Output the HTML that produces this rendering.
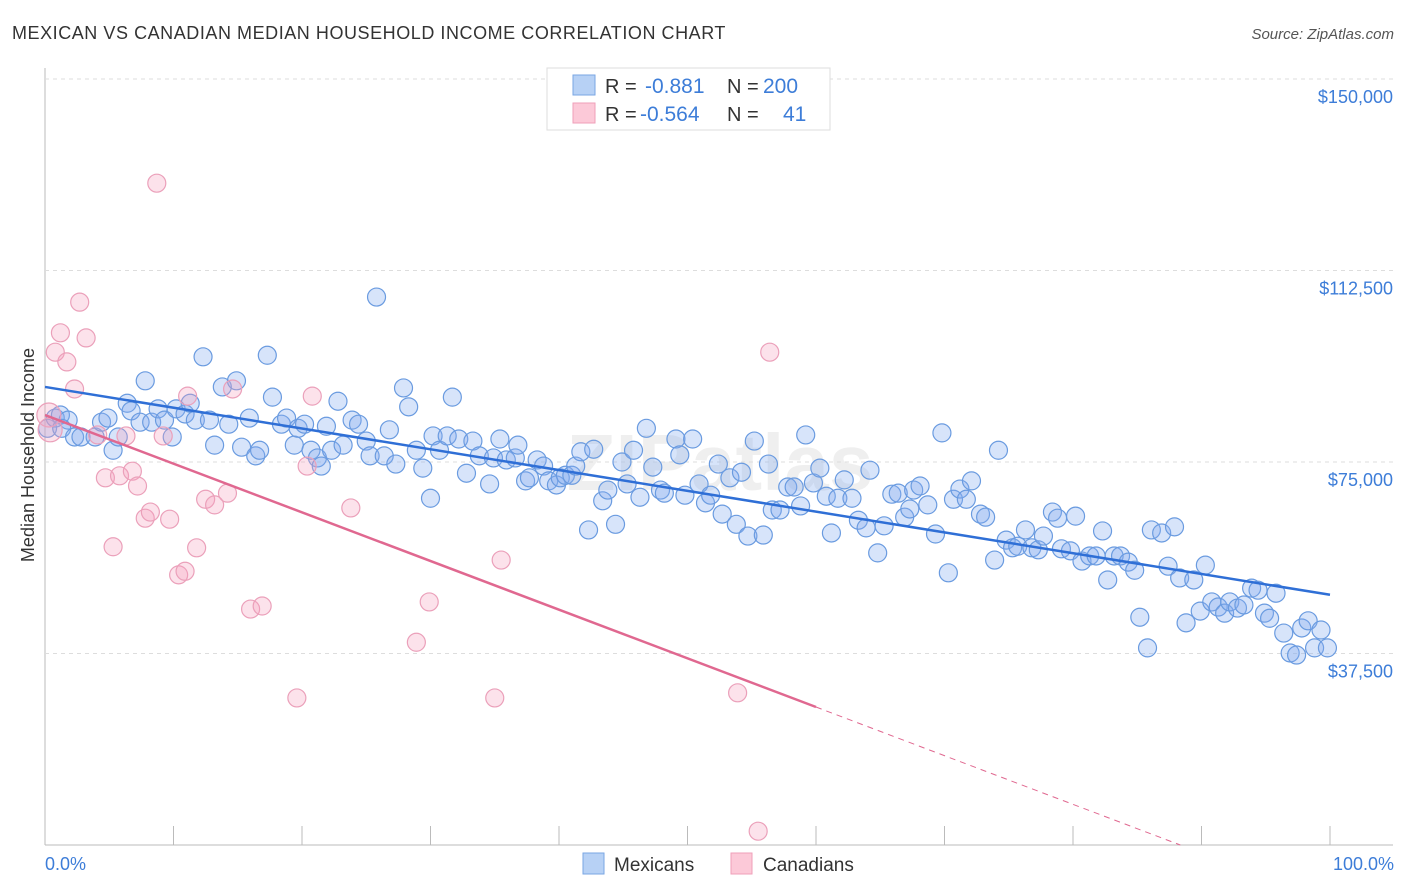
<!DOCTYPE html>
<html><head><meta charset="utf-8"><style>
body{margin:0;background:#fff;font-family:"Liberation Sans",sans-serif}
svg{display:block}
</style></head><body>
<svg id="c" width="1406" height="892" xmlns="http://www.w3.org/2000/svg">
<text x="12" y="39" font-size="18" fill="#333" letter-spacing="0.55">MEXICAN VS CANADIAN MEDIAN HOUSEHOLD INCOME CORRELATION CHART</text>
<text x="1394" y="39" font-size="15" fill="#555" font-style="italic" text-anchor="end">Source: ZipAtlas.com</text>
<text x="720" y="490" font-size="80" fill="#000" opacity="0.06" text-anchor="middle" font-weight="bold">ZIPatlas</text>
<g id="grid"></g><g id="pts"></g><g id="trend"></g>
<text transform="translate(34,455) rotate(-90)" font-size="18" fill="#333" text-anchor="middle">Median Household Income</text>
<text x="45" y="870" font-size="18" fill="#3d7dd8">0.0%</text>
<text x="1394" y="870" font-size="18" fill="#3d7dd8" text-anchor="end">100.0%</text>
<g>
<rect x="547" y="68" width="283" height="62" fill="#fff" stroke="#ddd"/>
<rect x="573" y="75" width="22" height="20" fill="#b7d1f5" stroke="#7aa6e3"/>
<rect x="573" y="103" width="22" height="20" fill="#fcc9d8" stroke="#ef9fb9"/>
<text x="605" y="93" font-size="20" fill="#333">R = </text><text x="645" y="93" font-size="21" fill="#3d7dd8">-0.881</text>
<text x="727" y="93" font-size="20" fill="#333">N = </text><text x="763" y="93" font-size="21" fill="#3d7dd8">200</text>
<text x="605" y="121" font-size="20" fill="#333">R = </text><text x="640" y="121" font-size="21" fill="#3d7dd8">-0.564</text>
<text x="727" y="121" font-size="20" fill="#333">N = </text><text x="783" y="121" font-size="21" fill="#3d7dd8">41</text>
</g>
<g>
<rect x="583" y="853" width="21" height="21" fill="#b7d1f5" stroke="#7aa6e3"/>
<text x="614" y="871" font-size="19" fill="#333">Mexicans</text>
<rect x="731" y="853" width="21" height="21" fill="#fcc9d8" stroke="#ef9fb9"/>
<text x="763" y="871" font-size="19" fill="#333">Canadians</text>
</g>
</svg>
<script>
const yTicks=[37500,75000,112500,150000];
const yTickLabels=["$37,500","$75,000","$112,500","$150,000"];
const mexX=[0.2,0.8,1.2,1.8,1.3,2.3,2.8,3.9,4.4,4.9,5.3,5.7,6.4,6.7,7.8,7.4,8.3,8.8,9.3,9.9,10.2,10.9,11.3,11.7,12.3,12.8,13.2,13.8,14.3,14.9,15.3,15.9,16.4,16.7,17.3,17.7,18.4,18.8,19.4,19.7,20.2,20.7,21.2,21.5,21.9,22.3,22.8,23.2,23.9,24.4,25.0,25.3,25.8,26.4,26.8,27.3,27.9,28.3,28.9,29.4,30.0,30.2,30.7,31.3,31.7,32.2,32.8,33.3,33.8,34.6,34.9,35.4,35.9,36.6,36.8,37.4,37.7,38.3,38.8,39.2,39.8,40.1,40.5,41.0,41.3,41.7,42.3,42.7,43.4,43.8,44.4,44.9,45.3,45.8,46.3,46.8,47.3,47.9,48.2,49.1,49.4,49.8,50.4,50.9,51.4,51.8,52.4,52.7,53.3,53.8,54.2,54.7,55.2,55.9,56.3,56.6,57.2,57.8,58.3,58.8,59.2,59.8,60.3,60.8,61.2,61.7,62.2,62.8,63.3,63.9,64.2,64.8,65.3,65.9,66.4,66.9,67.3,67.6,68.1,68.7,69.3,69.8,70.3,70.7,71.2,71.7,72.1,72.8,73.2,73.9,74.2,74.8,75.3,75.7,76.3,76.8,77.3,77.7,78.4,78.8,79.1,79.8,80.2,80.7,81.3,81.8,82.3,82.7,83.2,83.7,84.3,84.8,85.2,85.8,86.1,86.9,87.4,87.9,88.3,88.8,89.4,89.9,90.3,90.8,91.3,91.8,92.2,92.8,93.3,93.9,94.4,94.9,95.3,95.8,96.4,96.9,97.4,97.8,98.3,98.8,99.3,99.8];
const mexY=[81.6,83.6,84.2,83.2,81.6,79.9,79.9,79.9,82.8,83.6,77.3,79.9,86.5,85.0,90.9,82.8,82.8,85.4,83.2,79.9,85.4,84.4,86.5,83.2,95.6,83.2,78.3,89.7,82.4,90.9,77.9,83.6,76.2,77.3,95.9,87.7,82.4,83.6,78.3,81.6,82.4,77.3,75.8,74.2,82.0,77.3,86.9,78.3,83.2,82.4,79.1,76.2,107.3,76.2,81.3,74.6,89.5,85.8,77.3,73.8,67.9,80.1,77.3,80.1,87.7,79.5,72.8,79.1,76.2,70.7,75.8,79.5,75.4,75.8,78.3,71.3,71.9,75.4,74.2,71.3,70.5,71.9,72.4,72.4,74.2,77.0,61.7,77.5,67.4,69.5,62.8,75.0,70.7,77.3,68.1,81.6,74.0,69.5,68.9,79.5,76.4,68.5,79.5,70.7,67.0,68.5,74.6,64.8,71.9,62.8,73.0,60.5,79.1,60.7,74.6,65.6,65.6,70.1,70.1,66.4,80.3,70.9,73.8,68.3,61.1,67.9,71.5,67.9,63.6,62.1,73.4,57.2,62.5,68.7,68.9,64.2,65.8,69.5,70.3,66.6,60.9,80.7,53.3,67.7,69.7,67.7,71.3,64.8,64.2,55.8,77.3,59.7,58.2,58.5,61.7,58.2,57.8,60.5,65.2,64.0,58.0,57.6,64.4,55.6,56.6,56.6,61.5,51.9,56.6,56.6,55.4,53.8,44.6,38.6,61.7,61.1,54.6,62.3,52.3,43.5,51.9,45.8,54.8,47.6,46.6,45.4,47.6,46.4,47.0,50.3,49.9,45.4,44.4,49.3,41.5,37.6,37.2,42.5,43.9,38.6,42.1,38.6];
const canX=[0.3,0.4,0.8,1.2,1.7,2.3,2.7,3.2,4.1,4.7,5.3,5.8,6.3,6.8,7.2,7.8,8.2,8.7,9.2,9.7,10.4,10.9,11.1,11.8,12.5,13.2,14.2,14.6,16.0,16.9,19.6,20.4,20.8,23.8,28.9,29.9,35.0,35.5,53.9,56.4,55.5];
const canY=[84.2,81.3,96.5,100.3,94.6,89.3,106.3,99.3,80.3,71.9,58.4,72.3,80.1,73.2,70.3,64.0,65.2,129.6,80.1,63.8,52.9,53.6,87.9,58.2,67.7,66.6,68.9,89.3,46.2,46.8,28.8,74.2,87.9,66.0,39.7,47.6,28.8,55.8,29.8,96.5,2.7];
const mexTrend=[89.7,49.0];
const canTrend=[84.2,-11.1];
const canSolidEnd=60;
const xTicks=[0,10,20,30,40,50,60,70,80,90,100];

const NS="http://www.w3.org/2000/svg";
const X=p=>45+p*12.85, Y=v=>845-v/150000*766, Yk=k=>Y(k*1000);
function mk(t,a,p){const e=document.createElementNS(NS,t);for(const k in a)e.setAttribute(k,a[k]);p.appendChild(e);return e;}
const g=document.getElementById('grid');
const ax=mk('line',{x1:45,x2:45,y1:68,y2:845,stroke:'#bbb'},g);


const bx=mk('line',{x1:45,x2:1393,y1:845,y2:845,stroke:'#bbb'},g);


yTicks.forEach((v,i)=>{
 const l=mk('line',{x1:45,x2:1393,y1:Y(v),y2:Y(v),stroke:'#ddd','stroke-dasharray':'4,4'},g);
 
 
 const t=mk('text',{x:1393,y:Y(v)+24,'font-size':18,fill:'#3d7dd8','text-anchor':'end'},g);
 t.textContent=yTickLabels[i];
 
 
});
xTicks.forEach(p=>{
 const l=mk('line',{x1:X(p),x2:X(p),y1:826,y2:845,stroke:'#bbb'},g);
 
 
});
const P=document.getElementById('pts');
mexX.forEach((p,i)=>{
 const c=mk('circle',{cx:X(p),cy:Yk(mexY[i]),r:9,fill:'rgba(130,172,238,0.32)',stroke:'#6a9be0','stroke-width':1.2},P);
 
 
});
canX.forEach((p,i)=>{
 const c=mk('circle',{cx:X(p),cy:Yk(canY[i]),r:i<2?12:9,fill:'rgba(245,160,190,0.3)',stroke:'#eba0ba','stroke-width':1.2},P);
 
 
});
const T=document.getElementById('trend');
const m=mk('line',{x1:X(0),y1:Yk(mexTrend[0]),x2:X(100),y2:Yk(mexTrend[1]),stroke:'#2f6fd6','stroke-width':2.5},T);


const cv=p=>canTrend[0]+(canTrend[1]-canTrend[0])*p/100;
const zeroP=canTrend[0]/(canTrend[0]-canTrend[1])*100;
const c1=mk('line',{x1:X(0),y1:Yk(cv(0)),x2:X(canSolidEnd),y2:Yk(cv(canSolidEnd)),stroke:'#e06890','stroke-width':2.5},T);


const c2=mk('line',{x1:X(canSolidEnd),y1:Yk(cv(canSolidEnd)),x2:X(zeroP),y2:Yk(cv(zeroP)),stroke:'#e06890','stroke-width':1,'stroke-dasharray':'6,5'},T);


</script>
</body></html>
